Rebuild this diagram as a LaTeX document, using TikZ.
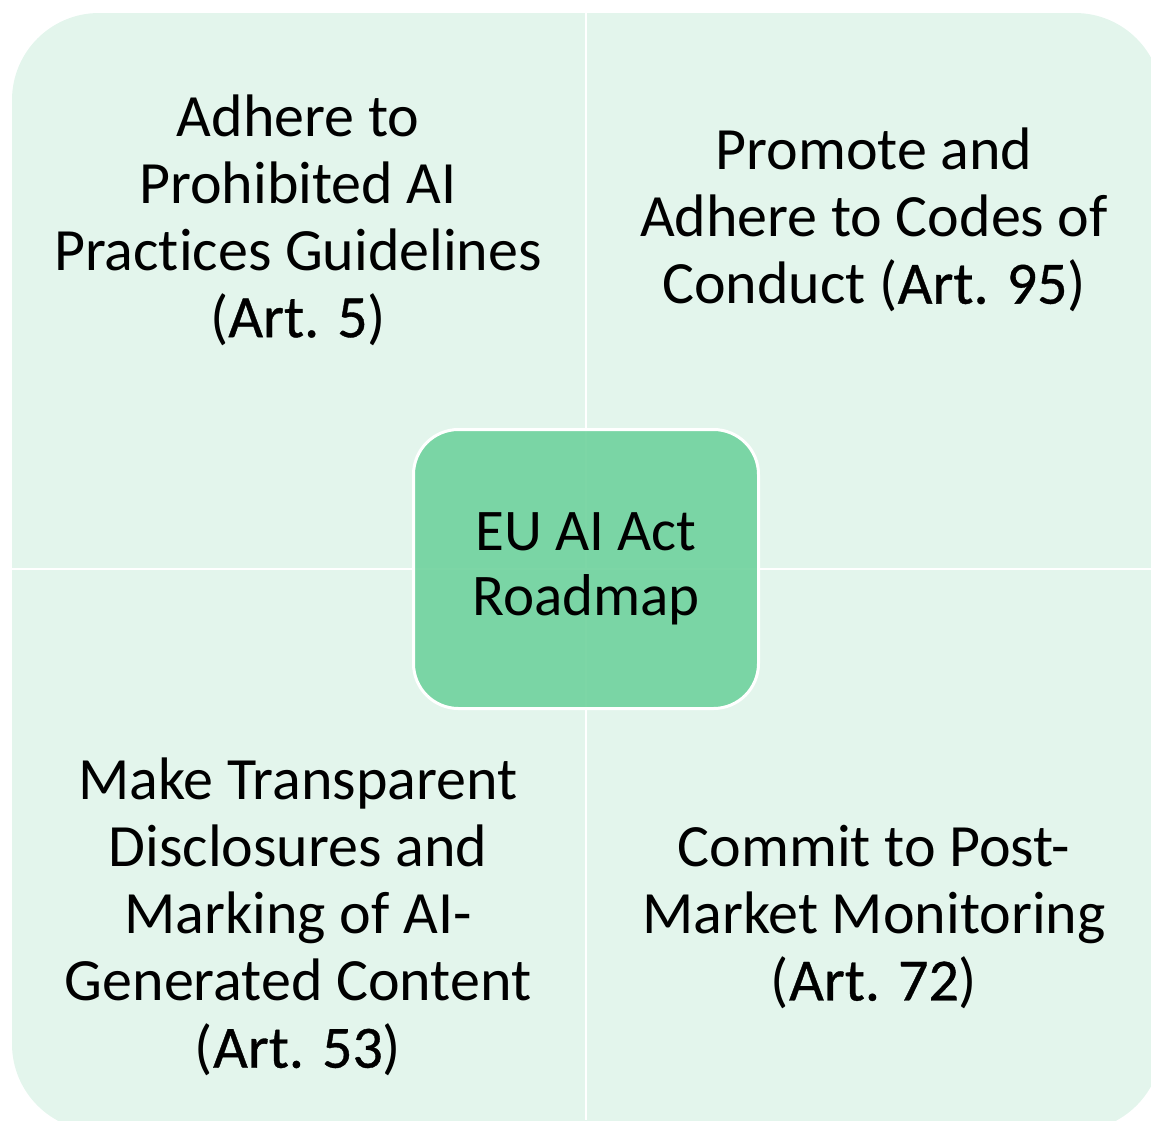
\documentclass[tikz,border=0pt]{standalone}
\usepackage{fontspec}
\setmainfont{Carlito}[Ligatures=NoCommon]
\newfontfamily\artfont{Carlito}[Ligatures=NoCommon, FakeBold=0.6]
\definecolor{quadfill}{HTML}{E3F5EC}
\definecolor{centerfill}{HTML}{72D39F}
\newcommand{\artref}[1]{{\artfont #1}}
\tikzset{
  qtext/.style={align=center, text=black, font=\fontsize{60}{67}\selectfont, inner sep=0pt},
  ctext/.style={align=center, text=black, font=\fontsize{59}{65}\selectfont},
  hub/.style={draw=white, line width=3pt, fill=centerfill, fill opacity=0.92, text opacity=1,
    rounded corners=45pt, minimum width=345pt, minimum height=279pt},
  divider/.style={white, line width=2.5pt}
}
\begin{document}
\begin{tikzpicture}[x=1pt,y=-1pt]
\useasboundingbox (0,0) rectangle (1151,1120);
\begin{scope}
\clip (0,0) rectangle (1151,1120);
\fill[quadfill, rounded corners=87pt] (12,13) rectangle (1162,1131);
\draw[divider] (586,0) coordinate (vtop) -- (586,1120) coordinate (vbot);
\draw[divider] (0,569) coordinate (hl) -- (1151,569) coordinate (hr);
\end{scope}
\node[qtext] (tl) at (298,220) {Adhere to\\Prohibited AI\\Practices Guidelines\\(\artref{Art. 5})};
\node[qtext] (tr) at (874,220) {Promote and\\Adhere to Codes of\\Conduct (\artref{Art. 95})};
\node[qtext] (bl) at (298,917) {Make Transparent\\Disclosures and\\Marking of AI-\\Generated Content\\(\artref{Art. 53})};
\node[qtext] (br) at (874,917) {Commit to Post-\\Market Monitoring\\(\artref{Art. 72})};
\node[hub] (hub) at (586,569) {};
\node[ctext] (hubt) at (586,569) {EU AI Act\\Roadmap};
\end{tikzpicture}
\end{document}
